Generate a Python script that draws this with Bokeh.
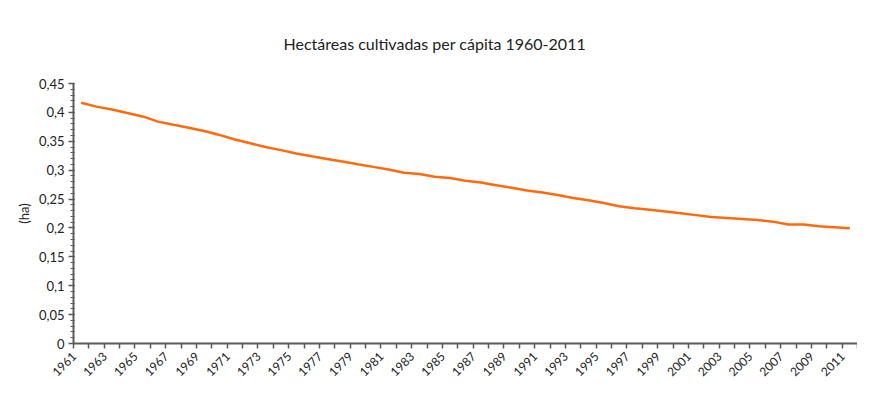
from bokeh.plotting import figure
from bokeh.models import Range1d, FixedTicker, Title
from bokeh.embed import file_html
from bokeh.resources import INLINE

# ---- data ----
years = list(range(1961, 2012))
ha_per_capita = [
    0.4166, 0.4100, 0.4050, 0.3990, 0.3930, 0.3840, 0.3785, 0.3734, 0.3677, 0.3610,
    0.3530, 0.3466, 0.3400, 0.3347, 0.3290, 0.3240, 0.3194, 0.3150, 0.3103, 0.3057,
    0.3012, 0.2955, 0.2933, 0.2887, 0.2865, 0.2818, 0.2785, 0.2740, 0.2694, 0.2648,
    0.2614, 0.2569, 0.2518, 0.2478, 0.2433, 0.2375, 0.2341, 0.2314, 0.2285, 0.2256,
    0.2222, 0.2188, 0.2171, 0.2154, 0.2137, 0.2109, 0.2058, 0.2058, 0.2029, 0.2012,
    0.1995,
]
x_label_years = list(range(1961, 2012, 2))
y_ticks = [0, 0.05, 0.1, 0.15, 0.2, 0.25, 0.3, 0.35, 0.4, 0.45]
y_tick_labels = ["0", "0,05", "0,1", "0,15", "0,2", "0,25", "0,3", "0,35", "0,4", "0,45"]
title_text = "Hectáreas cultivadas per cápita 1960-2011"
y_axis_title = "(ha)"

FONT = "Lato"
AXIS_COLOR = "#5a5a5a"
TEXT_COLOR = "#222222"

p = figure(
    width=857, height=382,
    output_backend="svg", toolbar_location=None,
    x_range=Range1d(years[0] - 0.5, years[-1] + 0.5),
    y_range=Range1d(0, 0.45),
    min_border_left=73, min_border_right=0,
    min_border_top=82, min_border_bottom=36,
)
p.outline_line_color = None
p.xgrid.grid_line_color = None
p.ygrid.grid_line_color = None
p.background_fill_color = "white"
p.border_fill_color = "white"

p.title = Title(text=title_text, align="left", offset=210,
                text_font=FONT, text_font_size="16px", text_font_style="normal",
                text_color=TEXT_COLOR, standoff=62)

p.line(years, ha_per_capita, line_color="#FF6A0D", line_width=2.5)

xa = p.below[0]
ya = p.left[0]

# x axis: tick marks at category boundaries, labels every other year
boundaries = [y - 0.5 for y in years] + [years[-1] + 0.5]
label_pos = [round(y - 0.45, 2) for y in x_label_years]
xa.ticker = FixedTicker(ticks=label_pos, minor_ticks=boundaries)
xa.major_label_overrides = {pos: str(y) for pos, y in zip(label_pos, x_label_years)}
xa.major_label_orientation = 0.785398
xa.major_tick_out = 0
xa.major_tick_in = 0
xa.minor_tick_out = 5
xa.minor_tick_in = 0
xa.minor_tick_line_color = AXIS_COLOR
xa.minor_tick_line_width = 1.5
xa.axis_line_color = AXIS_COLOR
xa.axis_line_width = 2
xa.major_label_text_font = FONT
xa.major_label_text_font_size = "12px"
xa.major_label_text_color = TEXT_COLOR
xa.major_label_standoff = 6

# y axis
ya.ticker = FixedTicker(ticks=y_ticks, minor_ticks=[i / 100 for i in range(0, 46)])
ya.major_label_overrides = dict(zip(y_ticks, y_tick_labels))
ya.major_tick_out = 5
ya.major_tick_in = 1
ya.minor_tick_out = 3
ya.minor_tick_in = 1
ya.major_tick_line_color = AXIS_COLOR
ya.minor_tick_line_color = AXIS_COLOR
ya.major_tick_line_width = 1.5
ya.axis_line_color = AXIS_COLOR
ya.axis_line_width = 2
ya.major_label_text_font = FONT
ya.major_label_text_font_size = "13px"
ya.major_label_text_color = TEXT_COLOR
ya.major_label_standoff = 4
ya.axis_label = y_axis_title
ya.axis_label_text_font = FONT
ya.axis_label_text_font_size = "13px"
ya.axis_label_text_font_style = "normal"
ya.axis_label_text_color = TEXT_COLOR
ya.axis_label_standoff = 4

open("out.html", "w").write(file_html(p, INLINE))
